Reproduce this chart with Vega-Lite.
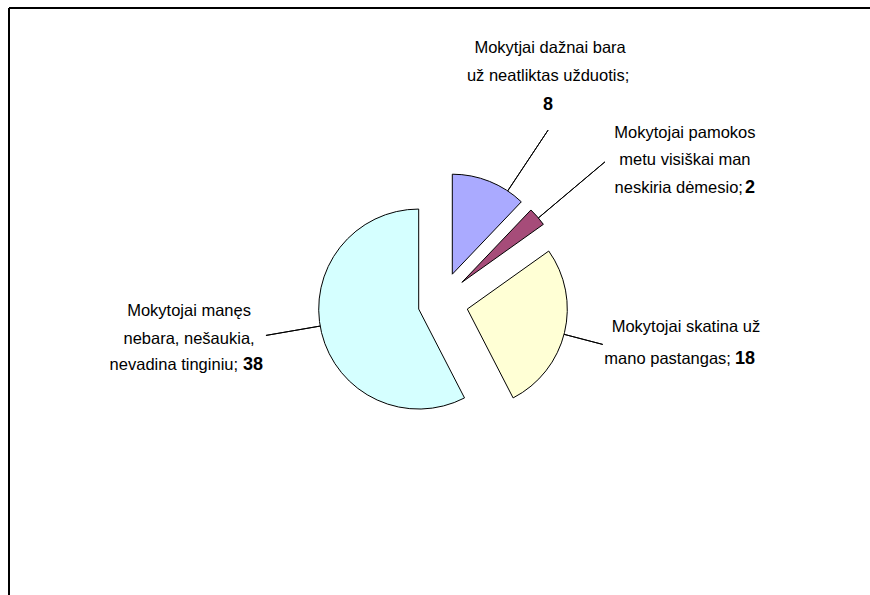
{
  "$schema": "https://vega.github.io/schema/vega-lite/v6.json",
  "width": 861,
  "height": 587,
  "padding": {"left": 9, "top": 8, "right": 0, "bottom": 0},
  "autosize": {"type": "none"},
  "background": "white",
  "config": {
    "view": {"stroke": null},
    "text": {"font": "Liberation Sans", "fontSize": 16.5, "color": "black"}
  },
  "data": {
    "values": [
      {"order": 1, "head": "Mokytjai dažnai bara", "tail": "už neatliktas užduotis;", "value": 8},
      {"order": 2, "head": "Mokytojai pamokos\nmetu visiškai man", "tail": "neskiria dėmesio;", "value": 2},
      {"order": 3, "head": "Mokytojai skatina už", "tail": "mano pastangas;", "value": 18},
      {"order": 4, "head": "Mokytojai manęs\nnebara, nešaukia,", "tail": "nevadina tinginiu;", "value": 38}
    ]
  },
  "transform": [
    {"stack": "value", "groupby": [], "sort": [{"field": "order", "order": "ascending"}], "as": ["v0", "v1"]},
    {"fold": ["v0", "v1"], "as": ["edge", "pos"]},
    {"joinaggregate": [{"op": "mean", "field": "pos", "as": "mid"}], "groupby": ["order"]},
    {"filter": "datum.edge == 'v0'"}
  ],
  "layer": [
    {
      "transform": [{"filter": "datum.order == 1"}],
      "layer": [
        {"mark": {"type": "rule", "color": "black", "strokeWidth": 2}, "encoding": {"y": {"value": 0}}},
        {"mark": {"type": "rule", "color": "black", "strokeWidth": 2}, "encoding": {"x": {"value": 0}}},
        {"mark": {"type": "arc", "radius": 100, "stroke": "black", "strokeWidth": 1, "xOffset": 12.8, "yOffset": -27.3},
         "encoding": {"theta": {"field": "v0", "type": "quantitative", "stack": null, "scale": {"domain": [0, 66]}}, "theta2": {"field": "v1"},
                      "color": {"field": "order", "type": "nominal", "scale": {"domain": [1, 2, 3, 4], "range": ["#AAAAFF", "#A64C79", "#FFFFD5", "#D5FFFF"]}, "legend": null}}},
        {"mark": {"type": "arc", "radius": 173, "radius2": 100, "stroke": "black", "strokeWidth": 1, "fill": "black", "thetaOffset": 0.206, "theta2Offset": 0.206, "xOffset": 12.8, "yOffset": -27.3},
         "encoding": {"theta": {"field": "mid", "type": "quantitative", "stack": null, "scale": {"domain": [0, 66]}}, "theta2": {"field": "mid"}}},
        {"mark": {"type": "text", "radius": 173, "thetaOffset": 0.206, "xOffset": 12.8, "yOffset": -27.3, "dx": 2, "dy": -77.6, "align": "center", "baseline": "alphabetic", "lineBreak": "\n", "lineHeight": 27.5},
         "encoding": {"theta": {"field": "mid", "type": "quantitative", "stack": null, "scale": {"domain": [0, 66]}}, "text": {"field": "head"}}},
        {"mark": {"type": "text", "radius": 173, "thetaOffset": 0.206, "xOffset": 12.8, "yOffset": -27.3, "dx": 0, "dy": -49.6, "align": "center", "baseline": "alphabetic"},
         "encoding": {"theta": {"field": "mid", "type": "quantitative", "stack": null, "scale": {"domain": [0, 66]}}, "text": {"field": "tail"}}},
        {"mark": {"type": "text", "radius": 173, "thetaOffset": 0.206, "xOffset": 12.8, "yOffset": -27.3, "dx": 0, "dy": -20.1, "align": "center", "baseline": "alphabetic", "fontWeight": "bold", "fontSize": 18},
         "encoding": {"theta": {"field": "mid", "type": "quantitative", "stack": null, "scale": {"domain": [0, 66]}}, "text": {"field": "value"}}}
      ]
    },
    {
      "transform": [{"filter": "datum.order == 2"}],
      "layer": [
        {"mark": {"type": "arc", "radius": 100, "stroke": "black", "strokeWidth": 1, "xOffset": 22.4, "yOffset": -19.15},
         "encoding": {"theta": {"field": "v0", "type": "quantitative", "stack": null, "scale": {"domain": [0, 66]}}, "theta2": {"field": "v1"},
                      "color": {"field": "order", "type": "nominal", "scale": {"domain": [1, 2, 3, 4], "range": ["#AAAAFF", "#A64C79", "#FFFFD5", "#D5FFFF"]}, "legend": null}}},
        {"mark": {"type": "arc", "radius": 187, "radius2": 100, "stroke": "black", "strokeWidth": 1, "fill": "black", "thetaOffset": 0.014, "theta2Offset": 0.014, "xOffset": 22.4, "yOffset": -19.15},
         "encoding": {"theta": {"field": "mid", "type": "quantitative", "stack": null, "scale": {"domain": [0, 66]}}, "theta2": {"field": "mid"}}},
        {"mark": {"type": "text", "radius": 187, "thetaOffset": 0.014, "xOffset": 22.4, "yOffset": -19.15, "dx": 80, "dy": -23.5, "align": "center", "baseline": "alphabetic", "lineBreak": "\n", "lineHeight": 27},
         "encoding": {"theta": {"field": "mid", "type": "quantitative", "stack": null, "scale": {"domain": [0, 66]}}, "text": {"field": "head"}}},
        {"mark": {"type": "text", "radius": 187, "thetaOffset": 0.014, "xOffset": 22.4, "yOffset": -19.15, "dx": 138, "dy": 31.5, "align": "right", "baseline": "alphabetic"},
         "encoding": {"theta": {"field": "mid", "type": "quantitative", "stack": null, "scale": {"domain": [0, 66]}}, "text": {"field": "tail"}}},
        {"mark": {"type": "text", "radius": 187, "thetaOffset": 0.014, "xOffset": 22.4, "yOffset": -19.15, "dx": 140, "dy": 31.5, "align": "left", "baseline": "alphabetic", "fontWeight": "bold", "fontSize": 18},
         "encoding": {"theta": {"field": "mid", "type": "quantitative", "stack": null, "scale": {"domain": [0, 66]}}, "text": {"field": "value"}}}
      ]
    },
    {
      "transform": [{"filter": "datum.order == 3"}],
      "layer": [
        {"mark": {"type": "arc", "radius": 100, "stroke": "black", "strokeWidth": 1, "xOffset": 27.8, "yOffset": 7.55},
         "encoding": {"theta": {"field": "v0", "type": "quantitative", "stack": null, "scale": {"domain": [0, 66]}}, "theta2": {"field": "v1"},
                      "color": {"field": "order", "type": "nominal", "scale": {"domain": [1, 2, 3, 4], "range": ["#AAAAFF", "#A64C79", "#FFFFD5", "#D5FFFF"]}, "legend": null}}},
        {"mark": {"type": "arc", "radius": 140, "radius2": 100, "stroke": "black", "strokeWidth": 1, "fill": "black", "thetaOffset": 0.0175, "theta2Offset": 0.0175, "xOffset": 27.8, "yOffset": 7.55},
         "encoding": {"theta": {"field": "mid", "type": "quantitative", "stack": null, "scale": {"domain": [0, 66]}}, "theta2": {"field": "mid"}}},
        {"mark": {"type": "text", "radius": 140, "thetaOffset": 0.0175, "xOffset": 27.8, "yOffset": 7.55, "dx": 83.2, "dy": -12, "align": "center", "baseline": "alphabetic"},
         "encoding": {"theta": {"field": "mid", "type": "quantitative", "stack": null, "scale": {"domain": [0, 66]}}, "text": {"field": "head"}}},
        {"mark": {"type": "text", "radius": 140, "thetaOffset": 0.0175, "xOffset": 27.8, "yOffset": 7.55, "dx": 128.2, "dy": 19.7, "align": "right", "baseline": "alphabetic"},
         "encoding": {"theta": {"field": "mid", "type": "quantitative", "stack": null, "scale": {"domain": [0, 66]}}, "text": {"field": "tail"}}},
        {"mark": {"type": "text", "radius": 140, "thetaOffset": 0.0175, "xOffset": 27.8, "yOffset": 7.55, "dx": 132.2, "dy": 19.7, "align": "left", "baseline": "alphabetic", "fontWeight": "bold", "fontSize": 18},
         "encoding": {"theta": {"field": "mid", "type": "quantitative", "stack": null, "scale": {"domain": [0, 66]}}, "text": {"field": "value"}}}
      ]
    },
    {
      "transform": [{"filter": "datum.order == 4"}],
      "layer": [
        {"mark": {"type": "arc", "radius": 100, "stroke": "black", "strokeWidth": 1, "xOffset": -20.8, "yOffset": 7.55},
         "encoding": {"theta": {"field": "v0", "type": "quantitative", "stack": null, "scale": {"domain": [0, 66]}}, "theta2": {"field": "v1"},
                      "color": {"field": "order", "type": "nominal", "scale": {"domain": [1, 2, 3, 4], "range": ["#AAAAFF", "#A64C79", "#FFFFD5", "#D5FFFF"]}, "legend": null}}},
        {"mark": {"type": "arc", "radius": 155, "radius2": 100, "stroke": "black", "strokeWidth": 1, "fill": "black", "thetaOffset": 0.067, "theta2Offset": 0.067, "xOffset": -20.8, "yOffset": 7.55},
         "encoding": {"theta": {"field": "mid", "type": "quantitative", "stack": null, "scale": {"domain": [0, 66]}}, "theta2": {"field": "mid"}}},
        {"mark": {"type": "text", "radius": 155, "thetaOffset": 0.067, "xOffset": -20.8, "yOffset": 7.55, "dx": -76.9, "dy": -19.3, "align": "center", "baseline": "alphabetic", "lineBreak": "\n", "lineHeight": 27.5},
         "encoding": {"theta": {"field": "mid", "type": "quantitative", "stack": null, "scale": {"domain": [0, 66]}}, "text": {"field": "head"}}},
        {"mark": {"type": "text", "radius": 155, "thetaOffset": 0.067, "xOffset": -20.8, "yOffset": 7.55, "dx": -27.9, "dy": 34.7, "align": "right", "baseline": "alphabetic"},
         "encoding": {"theta": {"field": "mid", "type": "quantitative", "stack": null, "scale": {"domain": [0, 66]}}, "text": {"field": "tail"}}},
        {"mark": {"type": "text", "radius": 155, "thetaOffset": 0.067, "xOffset": -20.8, "yOffset": 7.55, "dx": -22.9, "dy": 34.7, "align": "left", "baseline": "alphabetic", "fontWeight": "bold", "fontSize": 18},
         "encoding": {"theta": {"field": "mid", "type": "quantitative", "stack": null, "scale": {"domain": [0, 66]}}, "text": {"field": "value"}}}
      ]
    }
  ]
}
